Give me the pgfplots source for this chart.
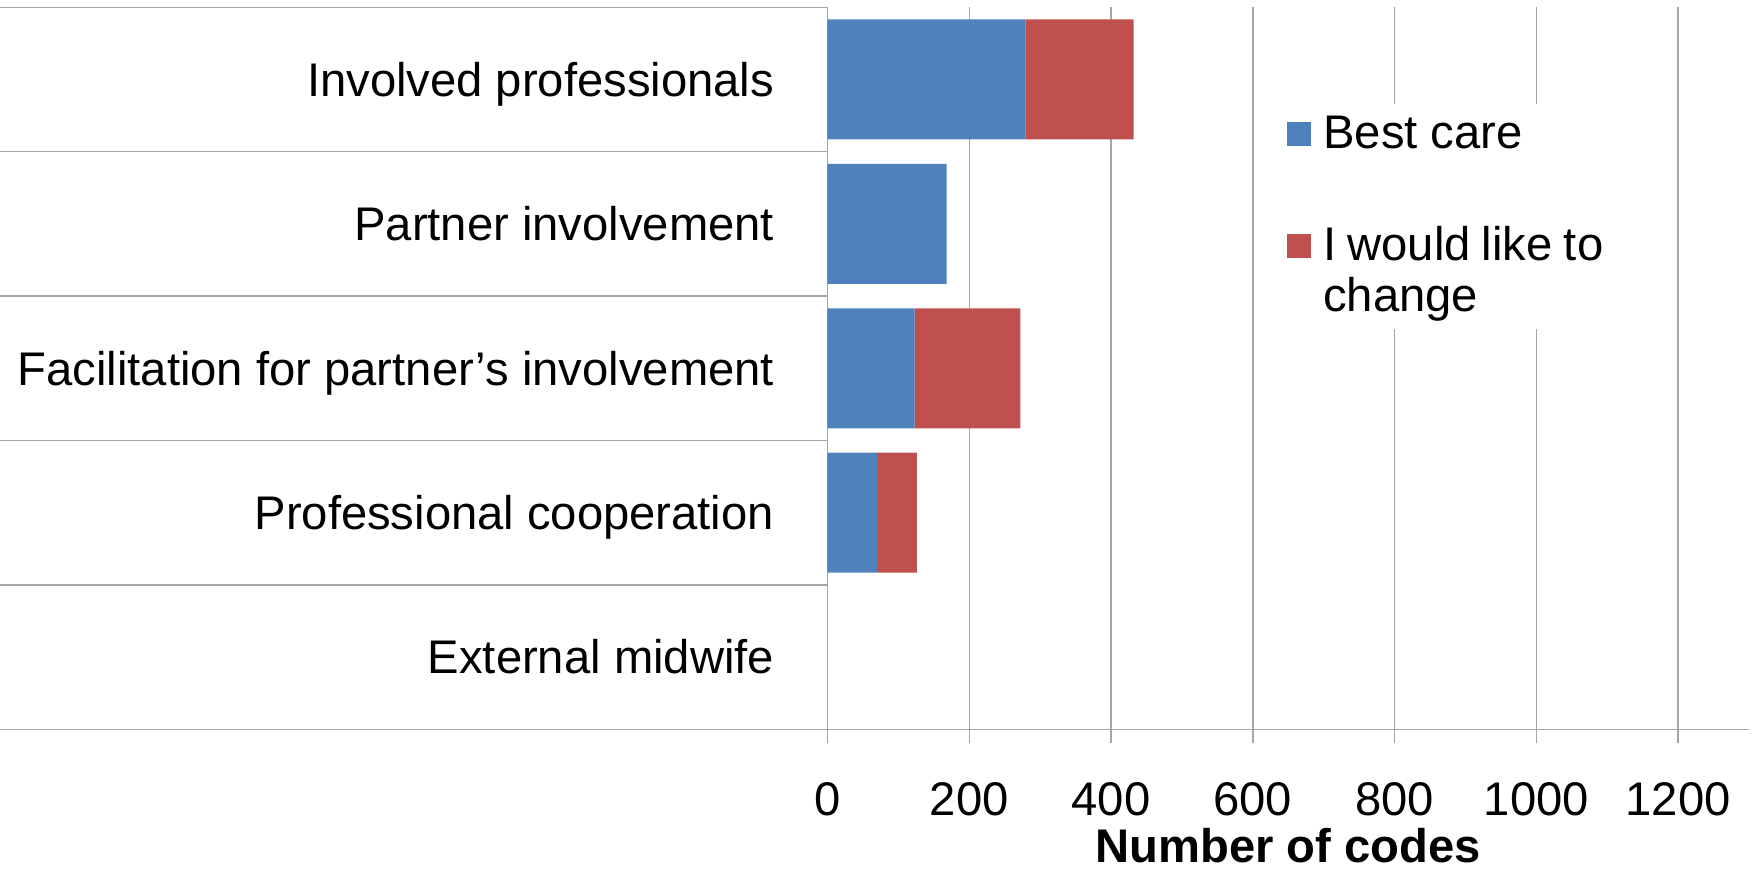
\documentclass[border=0pt]{standalone}
\usepackage{fontspec}
\setmainfont{Liberation Sans}
\usepackage{pgfplots}
\pgfplotsset{compat=1.18}
\definecolor{bestblue}{RGB}{79,129,189}
\definecolor{changered}{RGB}{192,80,77}
\definecolor{gridgray}{RGB}{166,166,166}
\begin{document}
\begin{tikzpicture}[font=\fontsize{23.6pt}{25.3pt}\selectfont]
\begin{axis}[
  scale only axis,
  width=460.75pt, height=361pt,
  xbar stacked,
  bar width=0.831,
  xmin=0, xmax=1300,
  ymin=-0.5, ymax=4.5,
  axis x line*=bottom,
  axis y line*=left,
  axis line style={draw=gridgray, line width=0.75pt},
  xtick={0,200,...,1200},
  xmajorgrids=true,
  grid style={draw=gridgray, line width=0.75pt},
  tick align=outside,
  major tick length=7pt,
  minor tick length=413.75pt,
  x tick style={draw=gridgray, line width=0.75pt},
  major y tick style={draw=none},
  minor y tick style={draw=gridgray, line width=0.75pt},
  ytick={0,1,2,3,4},
  minor ytick={-0.5,0.5,1.5,2.5,3.5,4.5},
  yticklabels={External midwife, Professional cooperation, Facilitation for partner’s involvement, Partner involvement, Involved professionals},
  yticklabel style={anchor=base east, inner sep=0pt, xshift=-19.5pt, yshift=-8.4pt},
  xticklabel style={anchor=north, inner sep=0pt, yshift=-19.5pt},
  /pgf/number format/1000 sep={},
  /pgf/number format/assume math mode=true,
  xlabel={\textbf{Number of codes}},
  xlabel style={at={(axis description cs:0.5,0)}, anchor=north, inner sep=0pt, yshift=-49.2pt},
  legend image code/.code={\path[#1, draw=none] (0pt,1.15pt) rectangle (12pt,13.35pt);},
  legend style={at={(0.4747,0.8661)}, anchor=north west, draw=none, fill=white,
    inner xsep=11pt, inner ysep=4.5pt, row sep=38.15pt, column sep=6pt,
    cells={anchor=base west}, nodes={inner sep=0pt}},
]
\addplot[fill=bestblue, draw=none] coordinates {(0,0) (70,1) (123,2) (168,3) (279,4)};
\addlegendentry[text height=17.7pt, text depth=0pt]{\begin{tabular}[t]{@{}p{140pt}@{}}Best care\end{tabular}}
\addplot[fill=changered, draw=none] coordinates {(0,0) (56,1) (149,2) (0,3) (153,4)};
\addlegendentry[text height=17.7pt, text depth=30pt]{\begin{tabular}[t]{@{}p{140pt}@{}}I would like to\\change\end{tabular}}
\end{axis}
\pgfresetboundingbox
\path[use as bounding box] ([xshift=-413.75pt,yshift=-70.85pt]current axis.south west) rectangle ([xshift=4.5pt,yshift=3.65pt]current axis.north east);
\end{tikzpicture}
\end{document}
